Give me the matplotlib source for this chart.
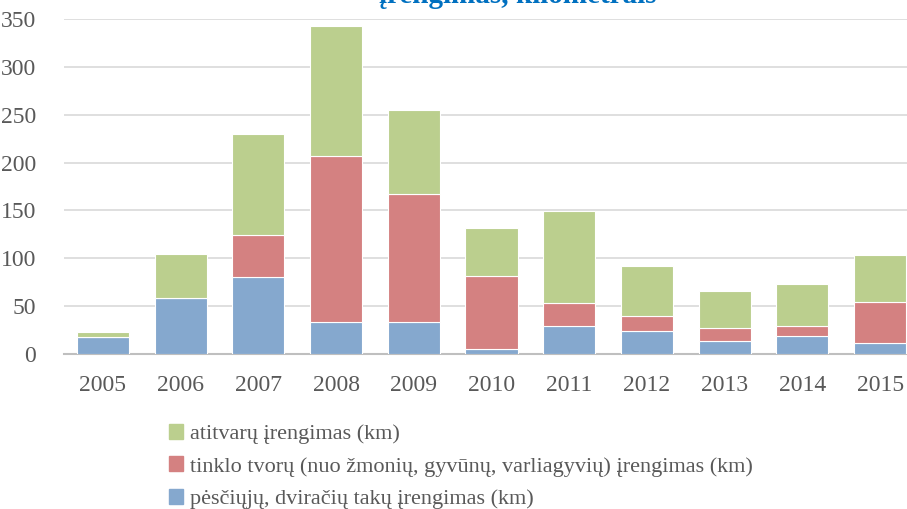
import numpy as np
import matplotlib.pyplot as plt
from matplotlib.patches import Patch

years = ['2005', '2006', '2007', '2008', '2009', '2010', '2011', '2012', '2013', '2014', '2015']
pesciuju = [18, 58.5, 80, 33, 33, 5, 29, 24, 13.5, 19, 11]
tinklo = [0, 0, 44, 174, 134.5, 76, 24, 16, 13.5, 10, 43]
atitvaru = [5, 46.5, 106, 136, 87, 51, 96, 52, 39, 44.5, 49]

labels = ['atitvarų įrengimas (km)',
          'tinklo tvorų (nuo žmonių, gyvūnų, varliagyvių) įrengimas (km)',
          'pėsčiųjų, dviračių takų įrengimas (km)']
c_green = '#BBCF8E'
c_red = '#D48181'
c_blue = '#85A8CE'
txt = '#595959'

plt.rcParams['font.family'] = ['Liberation Serif', 'DejaVu Serif']

fig = plt.figure(figsize=(9.07, 5.09), dpi=100)
ax = fig.add_axes([64/907, 1-354/509, 855/907, 335/509])

x = np.arange(len(years))
b = np.array(pesciuju)
r = np.array(tinklo)
g = np.array(atitvaru)
w = 0.67
ax.bar(x, b, w, color=c_blue, edgecolor='white', linewidth=0.8, zorder=3)
ax.bar(x, r, w, bottom=b, color=c_red, edgecolor='white', linewidth=0.8, zorder=3)
ax.bar(x, g, w, bottom=b+r, color=c_green, edgecolor='white', linewidth=0.8, zorder=3)

ax.set_xlim(-0.5, len(years)-0.5)
ax.set_ylim(0, 350)
ax.set_yticks(range(0, 351, 50))
ax.set_xticks(x)
ax.set_xticklabels(years)
ax.yaxis.grid(True, color='#D9D9D9', linewidth=1.2, zorder=0)
ax.set_axisbelow(True)
for s in ['top', 'right', 'left']:
    ax.spines[s].set_visible(False)
ax.spines['bottom'].set_color('#BFBFBF')
ax.spines['bottom'].set_linewidth(1.5)
ax.tick_params(axis='both', length=0, labelsize=17, colors=txt)
ax.tick_params(axis='x', pad=15)
ax.tick_params(axis='y', pad=20)

fig.text(518/907, 1-3/509, 'įrengimas, kilometrais', ha='center', va='baseline',
         fontsize=21, fontweight='bold', color='#0070C0')

handles = [Patch(color=c_green), Patch(color=c_red), Patch(color=c_blue)]
fig.legend(handles, labels, loc='upper left', bbox_to_anchor=(160/907, 1-415/509),
           frameon=False, fontsize=16, labelcolor=txt, handlelength=0.65,
           handleheight=0.65, handletextpad=0.3, labelspacing=0.55, borderaxespad=0)

fig.savefig('out.png', dpi=100)
